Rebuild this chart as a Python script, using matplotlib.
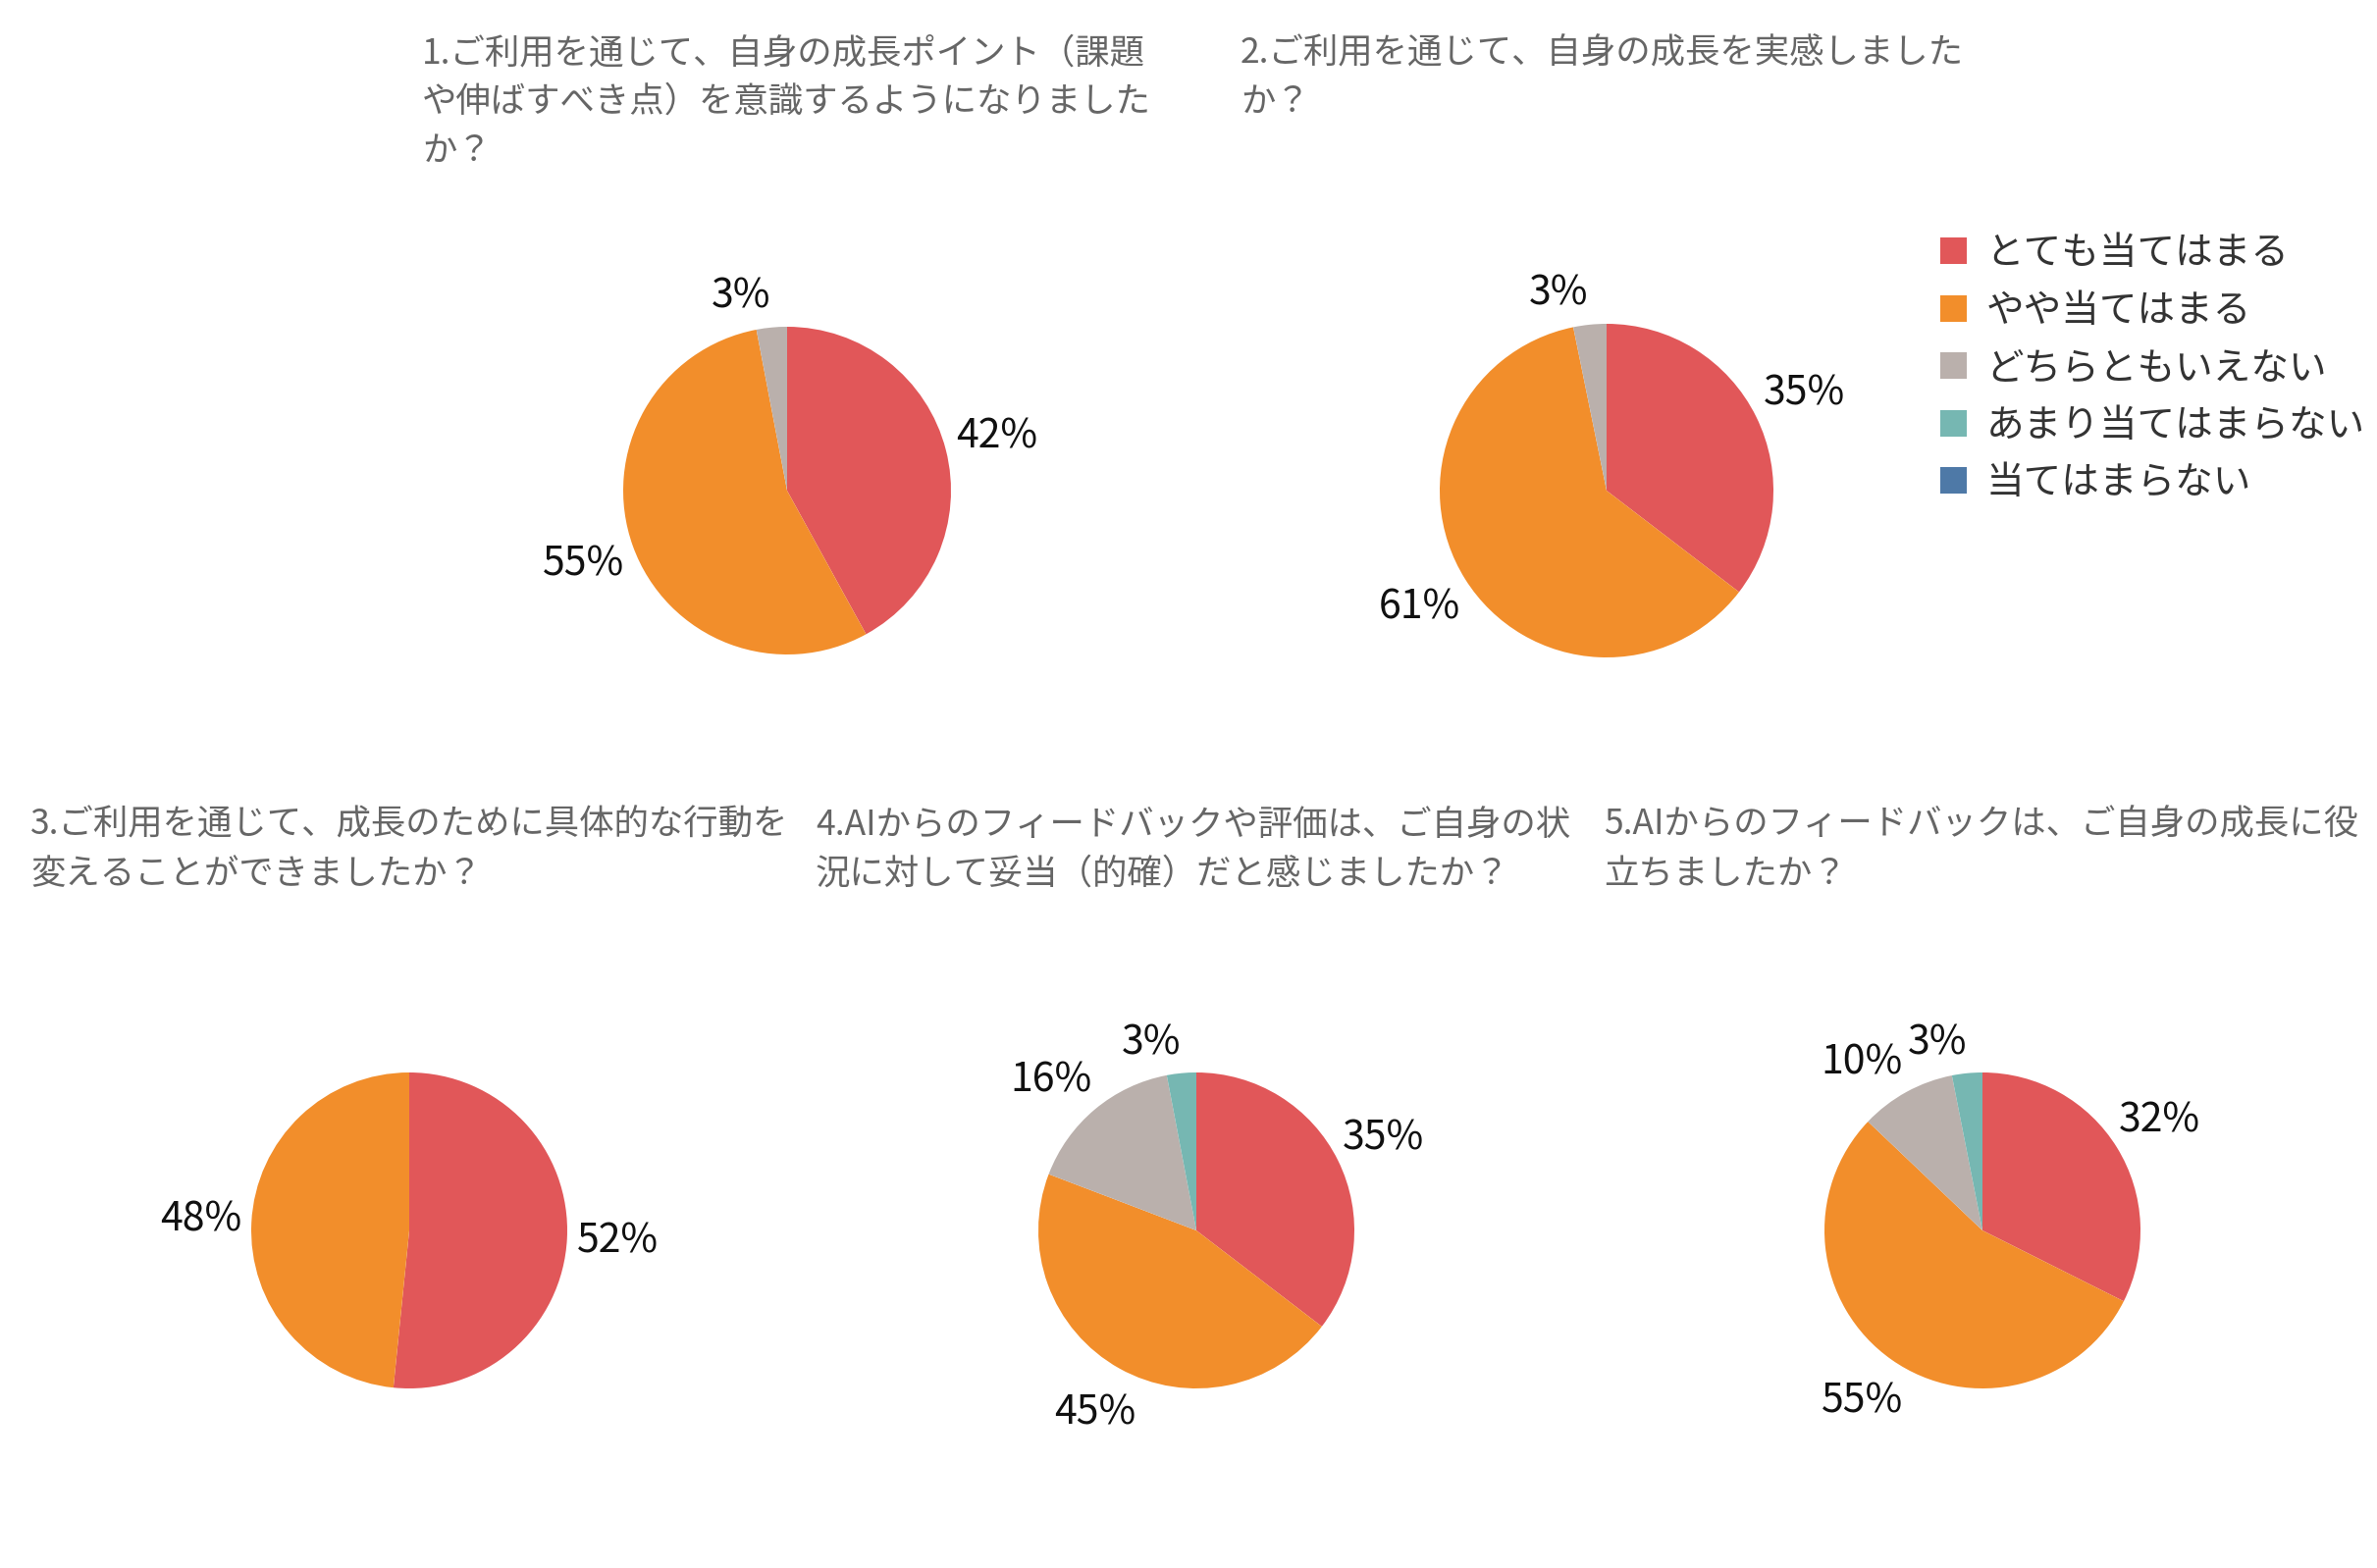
import matplotlib
matplotlib.use('Agg')
import numpy as np
import matplotlib.pyplot as plt
from matplotlib.patches import Patch

plt.rcParams['font.family'] = ['Noto Sans CJK JP', 'DejaVu Sans']

# 回答カテゴリと色
categories = ['とても当てはまる', 'やや当てはまる', 'どちらともいえない', 'あまり当てはまらない', '当てはまらない']
colors = ['#E15759', '#F28E2B', '#BAB0AC', '#76B7B2', '#4E79A7']

titles = [
    '1.ご利用を通じて、自身の成長ポイント（課題\nや伸ばすべき点）を意識するようになりました\nか？',
    '2.ご利用を通じて、自身の成長を実感しました\nか？',
    '3.ご利用を通じて、成長のために具体的な行動を\n変えることができましたか？',
    '4.AIからのフィードバックや評価は、ご自身の状\n況に対して妥当（的確）だと感じましたか？',
    '5.AIからのフィードバックは、ご自身の成長に役\n立ちましたか？',
]

# 各設問の回答割合 (%)
q1 = [42.0, 55.0, 3.0]
q2 = [35.4, 61.4, 3.2]
q3 = [51.6, 48.4]
q4 = [35.4, 45.4, 16.2, 3.0]
q5 = [32.4, 54.7, 9.8, 3.1]
values = [q1, q2, q3, q4, q5]

W, H = 2422, 1598
fig = plt.figure(figsize=(W / 100, H / 100), dpi=100)

# (中心x, 中心y, 半径) ピクセル
pie_pos = [(802, 500, 167), (1637, 500, 170), (417, 1254, 161), (1219, 1254, 161), (2020, 1254, 161)]
title_pos = [(430, 36), (1264, 36), (31, 823), (831, 823), (1634, 823)]

for i in range(5):
    cx, cy, r = pie_pos[i]
    ax = fig.add_axes([(cx - r) / W, 1 - (cy + r) / H, 2 * r / W, 2 * r / H])
    v = values[i]
    wedges, _, autotexts = ax.pie(v, colors=colors[:len(v)], startangle=90, counterclock=False,
                                  autopct='%.0f%%', pctdistance=1.32,
                                  wedgeprops=dict(linewidth=0),
                                  textprops=dict(fontsize=29.5, color='#111111'))
    # 小さい扇形のラベルは重ならないよう反時計回りに寄せる
    for w, t, val in zip(wedges, autotexts, v):
        frac = val / sum(v)
        if frac >= 0.2:
            continue
        if frac < 0.05:
            shift, dist = 8, 1.22
        elif frac < 0.12:
            shift, dist = 7, 1.31
        else:
            shift, dist = 4, 1.32
        ang = np.deg2rad((w.theta1 + w.theta2) / 2 + shift)
        t.set_position((dist * np.cos(ang), dist * np.sin(ang)))
    ax.set_xlim(-1, 1)
    ax.set_ylim(-1, 1)
    ax.set_aspect('equal')
    ax.axis('off')

    tx, ty = title_pos[i]
    fig.text(tx / W, 1 - ty / H, titles[i], ha='left', va='top',
             fontsize=25.5, color='#666666', linespacing=1.5)

handles = [Patch(facecolor=c, edgecolor='none') for c in colors]
fig.legend(handles, categories, loc='upper left',
           bbox_to_anchor=(1977 / W, 1 - 238 / H), frameon=False,
           fontsize=27.8, handlelength=0.7, handleheight=0.7,
           handletextpad=0.5, labelspacing=0.48, labelcolor='#333333',
           borderaxespad=0, borderpad=0)

fig.savefig('out.png', dpi=100)
